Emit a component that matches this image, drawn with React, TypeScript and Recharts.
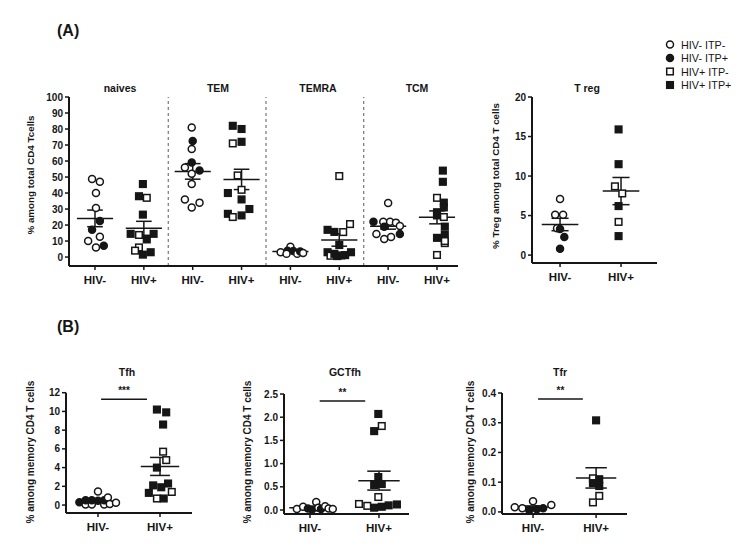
import React from "react";
import { ScatterChart, Scatter, XAxis, YAxis, ReferenceLine } from "recharts";

// o = HIV- ITP-, c = HIV- ITP+, s = HIV+ ITP-, S = HIV+ ITP+
type Kind = "o" | "c" | "s" | "S";

const FONT = "'Liberation Sans', Arial, Helvetica, sans-serif";
const INK = "#161616";

// ---------- (A) subsets, % among total CD4 T cells ----------
const subsetTitles = ["naives", "TEM", "TEMRA", "TCM"];
const subsetXLabels = ["HIV-", "HIV+", "HIV-", "HIV+", "HIV-", "HIV+", "HIV-", "HIV+"];
const subsetYTicks = [0, 10, 20, 30, 40, 50, 60, 70, 80, 90, 100];

const naivesNeg = [48.7, 47, 40, 30.6, 22.5, 17, 12.7, 10, 6, 7];
const naivesNegKinds: Kind[] = ["o", "o", "o", "o", "c", "c", "o", "o", "o", "c"];
const naivesNegJitter = [-0.06, 0.1, 0.02, 0.02, 0.1, -0.06, 0.1, -0.14, 0.02, 0.18];

const naivesPos = [45.6, 38, 37, 26.5, 14.5, 13.8, 14.5, 11, 6, 4, 1.5, 3];
const naivesPosKinds: Kind[] = ["S", "S", "s", "S", "S", "s", "S", "S", "s", "s", "S", "S"];
const naivesPosJitter = [-0.02, -0.1, 0.06, -0.02, -0.27, -0.1, 0.2, 0.06, -0.1, -0.18, -0.02, 0.14];

const temNeg = [81, 72.5, 67.5, 59, 56, 54, 52, 45.6, 36, 31, 34];
const temNegKinds: Kind[] = ["o", "c", "o", "c", "o", "c", "o", "o", "o", "o", "o"];
const temNegJitter = [-0.02, 0, -0.02, -0.02, -0.16, 0.14, -0.02, -0.02, -0.16, -0.02, 0.14];

const temPos = [82, 80, 72, 71, 51, 42, 40, 36, 30, 27, 26, 25];
const temPosKinds: Kind[] = ["S", "S", "S", "s", "s", "s", "S", "S", "S", "S", "S", "s"];
const temPosJitter = [-0.18, 0, 0, -0.18, -0.08, 0, -0.28, 0, 0.16, -0.28, 0, -0.18];

const temraNeg = [6.5, 4, 3.8, 3, 2, 3.5, 2, 2.5];
const temraNegKinds: Kind[] = ["o", "c", "c", "o", "o", "c", "o", "o"];
const temraNegJitter = [0, -0.06, 0.06, -0.2, 0.14, 0.2, -0.08, 0.26];

const temraPos = [50.6, 20.6, 17, 15.7, 15.6, 7.5, 3, 0.8, 0.6, 1.2, 3, 2, 1];
const temraPosKinds: Kind[] = ["s", "s", "S", "S", "s", "S", "S", "s", "S", "S", "S", "S", "S"];
const temraPosJitter = [0, 0.22, -0.24, -0.1, 0.08, 0, -0.24, -0.18, -0.04, 0.12, 0.24, -0.1, 0.04];

const tcmNeg = [33.8, 22, 22, 22, 21.5, 19, 19.4, 14.4, 11.3, 12.5, 14.4];
const tcmNegKinds: Kind[] = ["o", "c", "o", "o", "o", "c", "o", "o", "o", "o", "c"];
const tcmNegJitter = [0, -0.3, -0.1, 0.04, 0.16, -0.08, 0.24, -0.24, -0.08, 0.06, 0.24];

const tcmPos = [54, 47, 37, 34, 31, 28, 25, 26, 19, 12, 14, 8.7, 1.3, 10];
const tcmPosKinds: Kind[] = ["S", "S", "s", "S", "S", "S", "s", "S", "S", "S", "S", "s", "s", "s"];
const tcmPosJitter = [0.12, 0.12, 0, 0.14, 0.14, 0, 0.14, 0, 0.16, 0, 0.16, 0.16, 0, 0.16];

// ---------- (A) T reg ----------
const tregYTicks = [0, 5, 10, 15, 20];
const tregNeg = [7.1, 5.1, 5.1, 3.4, 3.3, 2.3, 0.8];
const tregNegKinds: Kind[] = ["o", "o", "o", "o", "c", "c", "c"];
const tregNegJitter = [0, -0.08, 0.05, -0.05, 0, 0.07, 0];
const tregPos = [15.9, 11.5, 8.7, 7.8, 6.2, 4.2, 2.4];
const tregPosKinds: Kind[] = ["S", "S", "s", "s", "S", "s", "S"];
const tregPosJitter = [-0.04, -0.04, -0.1, 0.02, -0.04, -0.04, -0.04];

// ---------- (B) Tfh / GCTfh / Tfr, % among memory CD4 T cells ----------
const groupLabels = ["HIV-", "HIV+"];

const tfhYTicks = [0, 2, 4, 6, 8, 10, 12];
const tfhNeg = [0.3, 0.05, 0.5, 0.05, 0.5, 1.45, 0.45, 0.05, 0.5, 0.8, 0.1, 0.25];
const tfhNegKinds: Kind[] = ["c", "o", "c", "o", "c", "o", "c", "o", "c", "o", "o", "o"];
const tfhNegJitter = [-0.3, -0.2, -0.2, -0.1, -0.1, 0, 0, 0.1, 0.1, 0.16, 0.19, 0.29];
const tfhPos = [10.2, 9.9, 8.6, 5.7, 4.8, 4.0, 2.1, 1.9, 2.3, 1.4, 1.3, 0.7, 0.7];
const tfhPosKinds: Kind[] = ["S", "S", "S", "s", "s", "S", "S", "S", "S", "s", "S", "s", "S"];
const tfhPosJitter = [-0.05, 0.1, 0.05, 0.05, 0.1, -0.05, -0.11, 0.02, 0.13, 0.19, -0.18, -0.05, 0.06];

const gctfhYTicks = [0, 0.5, 1, 1.5, 2, 2.5];
const gctfhNeg = [0.02, 0.07, 0.03, 0.01, 0.17, 0.05, 0.02, 0.08, 0.03, 0.02];
const gctfhNegKinds: Kind[] = ["o", "o", "c", "c", "o", "o", "c", "o", "o", "o"];
const gctfhNegJitter = [-0.19, -0.1, -0.03, 0.03, 0.09, 0.12, 0.16, 0.22, 0.27, 0.33];
const gctfhPos = [2.07, 1.81, 1.7, 0.71, 0.54, 0.56, 0.28, 0.13, 0.09, 0.05, 0.07, 0.1, 0.12];
const gctfhPosKinds: Kind[] = ["S", "s", "S", "S", "S", "S", "s", "s", "s", "S", "S", "S", "S"];
const gctfhPosJitter = [-0.01, 0.04, -0.07, -0.01, -0.07, 0.04, -0.01, -0.29, -0.17, -0.07, 0.04, 0.14, 0.26];

const tfrYTicks = [0, 0.1, 0.2, 0.3, 0.4];
const tfrNeg = [0.016, 0.012, 0.006, 0.036, 0.009, 0.012, 0.023];
const tfrNegKinds: Kind[] = ["o", "o", "c", "o", "c", "c", "o"];
const tfrNegJitter = [-0.29, -0.17, -0.06, 0, 0.06, 0.16, 0.29];
const tfrPos = [0.308, 0.113, 0.11, 0.097, 0.087, 0.054, 0.032];
const tfrPosKinds: Kind[] = ["S", "s", "S", "S", "S", "s", "s"];
const tfrPosJitter = [0, -0.05, 0.05, -0.05, 0.05, 0.05, -0.05];

const legendItems: { kind: Kind; label: string }[] = [
  { kind: "o", label: "HIV- ITP-" },
  { kind: "c", label: "HIV- ITP+" },
  { kind: "s", label: "HIV+ ITP-" },
  { kind: "S", label: "HIV+ ITP+" },
];

type Group = { pos: number; values: number[]; kinds: Kind[]; jitter: number[] };

const meanSem = (v: number[]) => {
  const m = v.reduce((a, b) => a + b, 0) / v.length;
  const sd = Math.sqrt(v.reduce((a, b) => a + (b - m) * (b - m), 0) / (v.length - 1));
  return { m, sem: sd / Math.sqrt(v.length) };
};

const Mark = ({ kind, cx, cy }: { kind: Kind; cx: number; cy: number }) => {
  if (kind === "o" || kind === "c") {
    return <circle cx={cx} cy={cy} r={3.5} fill={kind === "c" ? INK : "#fff"} stroke={INK} strokeWidth={1.5} />;
  }
  const s = 6.6;
  return (
    <rect x={cx - s / 2} y={cy - s / 2} width={s} height={s} fill={kind === "S" ? INK : "#fff"} stroke={INK} strokeWidth={1.5} />
  );
};

const renderPoint = (props: any) => {
  const { cx, cy, payload } = props;
  if (cx == null || cy == null) return <g />;
  return <Mark kind={payload.kind} cx={cx} cy={cy} />;
};

type PanelProps = {
  left: number;
  top: number;
  width: number;
  height: number;
  margin: { top: number; right: number; bottom: number; left: number };
  xDomain: [number, number];
  yDomain: [number, number];
  xLabels: string[];
  yTicks: number[];
  yFormat?: (v: number) => string;
  groups: Group[];
  meanHalf: number;
  semHalf: number;
  dividers?: number[];
  sig?: { y: number; x1: number; x2: number; text: string };
};

const DotPanel = (p: PanelProps) => {
  const points = p.groups.flatMap((g) =>
    g.values.map((v, i) => ({ x: g.pos + g.jitter[i], y: v, kind: g.kinds[i] }))
  );
  const xTicks = p.groups.map((g) => g.pos);

  // mean +/- SEM, drawn as segments on the chart's own scales
  const statLines = p.groups.flatMap((g, gi) => {
    const { m, sem } = meanSem(g.values);
    const segs: [number, number, number, number][] = [
      [g.pos - p.meanHalf, m, g.pos + p.meanHalf, m],
      [g.pos - p.semHalf, m + sem, g.pos + p.semHalf, m + sem],
      [g.pos - p.semHalf, m - sem, g.pos + p.semHalf, m - sem],
      [g.pos, m - sem, g.pos, m + sem],
    ];
    return segs.map((s, si) => (
      <ReferenceLine
        key={`st-${gi}-${si}`}
        segment={[{ x: s[0], y: s[1] }, { x: s[2], y: s[3] }]}
        stroke={INK}
        strokeWidth={1.5}
        ifOverflow="visible"
      />
    ));
  });

  return (
    <div style={{ position: "absolute", left: p.left, top: p.top }}>
      <ScatterChart width={p.width} height={p.height} margin={p.margin}>
        <XAxis
          type="number"
          dataKey="x"
          domain={p.xDomain}
          ticks={xTicks}
          interval={0}
          allowDataOverflow
          tickFormatter={(v: number) => p.xLabels[xTicks.indexOf(v)] ?? ""}
          axisLine={{ stroke: INK, strokeWidth: 2 }}
          tickLine={{ stroke: INK, strokeWidth: 1.5 }}
          tickSize={4}
          tickMargin={6}
          height={30}
          tick={{ fill: INK, fontSize: 11.5, fontWeight: 700, fontFamily: FONT }}
        />
        <YAxis
          type="number"
          dataKey="y"
          domain={p.yDomain}
          ticks={p.yTicks}
          interval={0}
          allowDataOverflow
          tickFormatter={p.yFormat ?? ((v: number) => String(v))}
          axisLine={{ stroke: INK, strokeWidth: 2 }}
          tickLine={{ stroke: INK, strokeWidth: 1.5 }}
          tickSize={4}
          tickMargin={2}
          width={40}
          tick={{ fill: INK, fontSize: 10, fontWeight: 700, fontFamily: FONT }}
        />
        {(p.dividers ?? []).map((d) => (
          <ReferenceLine key={`d-${d}`} x={d} stroke="#777" strokeWidth={1.2} strokeDasharray="3 3" />
        ))}
        {p.sig && (
          <ReferenceLine
            segment={[{ x: p.sig.x1, y: p.sig.y }, { x: p.sig.x2, y: p.sig.y }]}
            stroke={INK}
            strokeWidth={1.6}
            ifOverflow="visible"
            label={{ value: p.sig.text, position: "top", offset: 5, fill: INK, fontSize: 10, fontWeight: 700, fontFamily: FONT }}
          />
        )}
        <Scatter data={points} shape={renderPoint} isAnimationActive={false} />
        {statLines}
      </ScatterChart>
    </div>
  );
};

const subsetGroups: Group[] = [
  { pos: 1, values: naivesNeg, kinds: naivesNegKinds, jitter: naivesNegJitter },
  { pos: 2, values: naivesPos, kinds: naivesPosKinds, jitter: naivesPosJitter },
  { pos: 3, values: temNeg, kinds: temNegKinds, jitter: temNegJitter },
  { pos: 4, values: temPos, kinds: temPosKinds, jitter: temPosJitter },
  { pos: 5, values: temraNeg, kinds: temraNegKinds, jitter: temraNegJitter },
  { pos: 6, values: temraPos, kinds: temraPosKinds, jitter: temraPosJitter },
  { pos: 7, values: tcmNeg, kinds: tcmNegKinds, jitter: tcmNegJitter },
  { pos: 8, values: tcmPos, kinds: tcmPosKinds, jitter: tcmPosJitter },
];

const pair = (a: number[], ak: Kind[], aj: number[], b: number[], bk: Kind[], bj: number[]): Group[] => [
  { pos: 1, values: a, kinds: ak, jitter: aj },
  { pos: 2, values: b, kinds: bk, jitter: bj },
];

const fixed1 = (v: number) => v.toFixed(1);

const titleStyle = { fontFamily: FONT, fontSize: 10.5, fontWeight: 700, fill: INK } as const;

const VLabel = ({ x, y, text, size }: { x: number; y: number; text: string; size: number }) => (
  <text
    x={x}
    y={y}
    transform={`rotate(-90 ${x} ${y})`}
    textAnchor="middle"
    dominantBaseline="central"
    style={{ fontFamily: FONT, fontSize: size, fontWeight: 700, fill: INK }}
  >
    {text}
  </text>
);

export default function App() {
  return (
    <div style={{ position: "absolute", left: 0, top: 0, width: 750, height: 556, background: "#fff", overflow: "hidden" }}>
      <DotPanel
        left={0}
        top={0}
        width={470}
        height={300}
        margin={{ top: 97, right: 12, bottom: 4, left: 29 }}
        xDomain={[0.468, 8.43]}
        yDomain={[-5.6, 100]}
        xLabels={subsetXLabels}
        yTicks={subsetYTicks}
        groups={subsetGroups}
        meanHalf={0.37}
        semHalf={0.16}
        dividers={[2.5, 4.5, 6.5]}
      />
      <DotPanel
        left={470}
        top={0}
        width={200}
        height={300}
        margin={{ top: 97, right: 13, bottom: 7, left: 22 }}
        xDomain={[0.54, 2.59]}
        yDomain={[-1.0, 20]}
        xLabels={groupLabels}
        yTicks={tregYTicks}
        groups={pair(tregNeg, tregNegKinds, tregNegJitter, tregPos, tregPosKinds, tregPosJitter)}
        meanHalf={0.3}
        semHalf={0.14}
      />
      <DotPanel
        left={0}
        top={340}
        width={220}
        height={216}
        margin={{ top: 52.7, right: 28, bottom: 13, left: 26 }}
        xDomain={[0.484, 2.516]}
        yDomain={[-0.85, 12]}
        xLabels={groupLabels}
        yTicks={tfhYTicks}
        groups={pair(tfhNeg, tfhNegKinds, tfhNegJitter, tfhPos, tfhPosKinds, tfhPosJitter)}
        meanHalf={0.31}
        semHalf={0.16}
        sig={{ y: 11.3, x1: 1.05, x2: 1.79, text: "***" }}
      />
      <DotPanel
        left={220}
        top={340}
        width={220}
        height={216}
        margin={{ top: 54, right: 31, bottom: 12, left: 24 }}
        xDomain={[0.623, 2.435]}
        yDomain={[-0.086, 2.5]}
        xLabels={groupLabels}
        yTicks={gctfhYTicks}
        yFormat={fixed1}
        groups={pair(gctfhNeg, gctfhNegKinds, gctfhNegJitter, gctfhPos, gctfhPosKinds, gctfhPosJitter)}
        meanHalf={0.3}
        semHalf={0.17}
        sig={{ y: 2.35, x1: 1.14, x2: 1.8, text: "**" }}
      />
      <DotPanel
        left={440}
        top={340}
        width={240}
        height={216}
        margin={{ top: 53, right: 53, bottom: 12, left: 22 }}
        xDomain={[0.508, 2.49]}
        yDomain={[-0.007, 0.4]}
        xLabels={groupLabels}
        yTicks={tfrYTicks}
        yFormat={fixed1}
        groups={pair(tfrNeg, tfrNegKinds, tfrNegJitter, tfrPos, tfrPosKinds, tfrPosJitter)}
        meanHalf={0.32}
        semHalf={0.17}
        sig={{ y: 0.38, x1: 1.08, x2: 1.79, text: "**" }}
      />

      <svg width={750} height={556} style={{ position: "absolute", left: 0, top: 0, pointerEvents: "none" }}>
        <text x={57} y={30} dominantBaseline="central" style={{ fontFamily: FONT, fontSize: 16, fontWeight: 700, fill: INK }}>
          (A)
        </text>
        <text x={57} y={326} dominantBaseline="central" style={{ fontFamily: FONT, fontSize: 16, fontWeight: 700, fill: INK }}>
          (B)
        </text>

        {subsetTitles.map((t, i) => (
          <text key={t} x={[120, 218, 318, 417][i]} y={88} textAnchor="middle" dominantBaseline="central" style={titleStyle}>
            {t}
          </text>
        ))}
        <text x={587} y={88} textAnchor="middle" dominantBaseline="central" style={titleStyle}>
          T reg
        </text>
        <text x={127} y={372} textAnchor="middle" dominantBaseline="central" style={titleStyle}>
          Tfh
        </text>
        <text x={345} y={372} textAnchor="middle" dominantBaseline="central" style={titleStyle}>
          GCTfh
        </text>
        <text x={560} y={372} textAnchor="middle" dominantBaseline="central" style={titleStyle}>
          Tfr
        </text>

        <VLabel x={30} y={175} size={9.8} text="% among total CD4 Tcells" />
        <VLabel x={495} y={176} size={9.8} text="% Treg among total CD4 T cells" />
        <VLabel x={30} y={452} size={10} text="% among memory CD4 T cells" />
        <VLabel x={247} y={452} size={10} text="% among memory CD4 T cells" />
        <VLabel x={470} y={452} size={10} text="% among memory CD4 T cells" />

        {legendItems.map((it, i) => (
          <g key={it.label}>
            <Mark kind={it.kind} cx={670} cy={44.5 + i * 13.5} />
            <text x={681} y={44.5 + i * 13.5} dominantBaseline="central" style={{ fontFamily: FONT, fontSize: 10.8, fill: INK }}>
              {it.label}
            </text>
          </g>
        ))}
      </svg>
    </div>
  );
}
